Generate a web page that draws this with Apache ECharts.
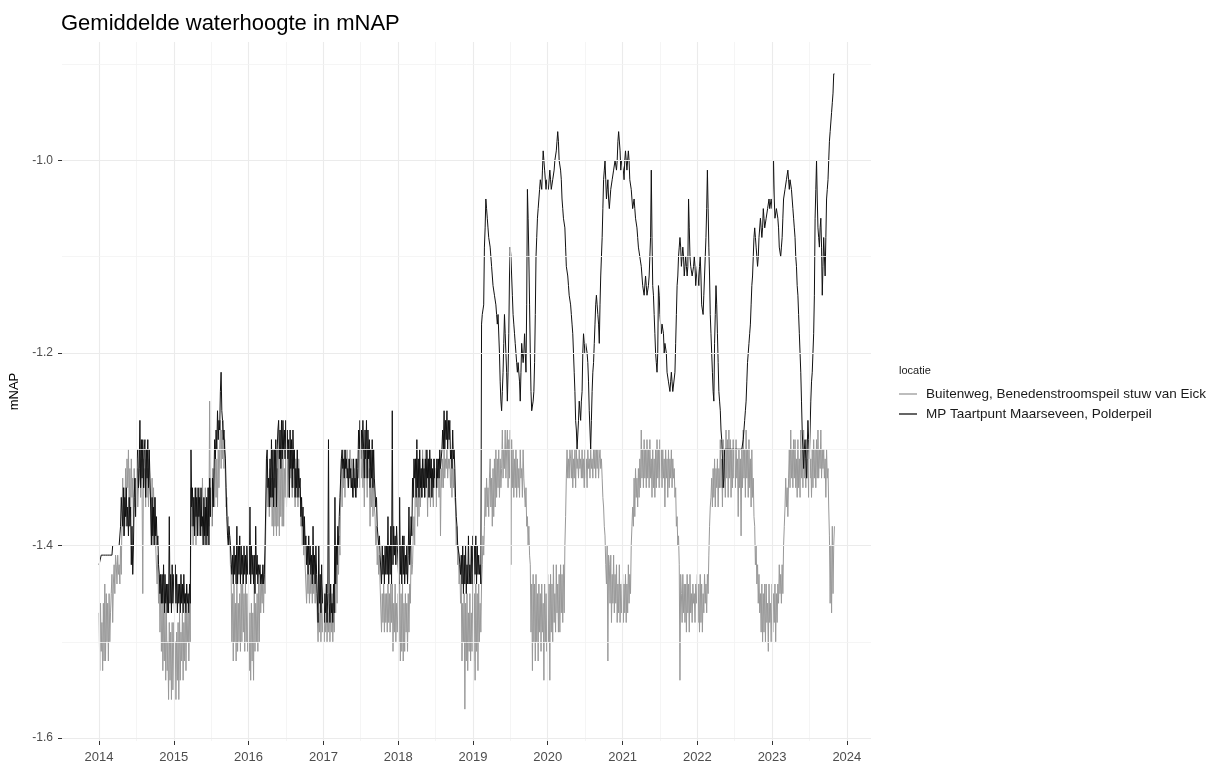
<!DOCTYPE html>
<html><head><meta charset="utf-8">
<script src="https://cdn.jsdelivr.net/npm/echarts@6/dist/echarts.min.js"></script>
<style>html,body{margin:0;padding:0;background:#fff}#c{width:1217px;height:765px}</style>
</head><body><div id="c"></div>
<script>
const chartTitle = 'Gemiddelde waterhoogte in mNAP';
const legendTitle = 'locatie';
const yAxisTitle = 'mNAP';
const seriesNames = ['Buitenweg, Benedenstroomspeil stuw van Eick', 'MP Taartpunt Maarseveen, Polderpeil'];
const startYear = 2014;
const readingsPerYear = 104;   // two readings per week, each year restarts on 1 January
const readingStepDays = 3.5;

// Buitenweg (grey), twice-weekly readings, one row per year 2014 .. Nov 2023
const buitenweg = [
 -1.47,-1.53,-1.46,-1.51,-1.48,-1.53,-1.46,-1.52,-1.44,-1.52,-1.45,-1.50,-1.46,-1.52,-1.45,-1.50,-1.47,-1.45,-1.43,-1.48,-1.44,-1.42,-1.45,-1.41,-1.42,-1.44,-1.41,-1.43,-1.42,-1.44,-1.40,-1.43,-1.37,-1.33,-1.39,-1.34,-1.38,-1.32,-1.37,-1.31,-1.34,-1.30,-1.36,-1.32,-1.37,-1.31,-1.35,-1.33,-1.38,-1.32,-1.36,-1.33,-1.37,-1.32,-1.36,-1.34,-1.33,-1.30,-1.35,-1.31,-1.34,-1.45,-1.31,-1.34,-1.32,-1.36,-1.31,-1.35,-1.32,-1.36,-1.31,-1.34,-1.35,-1.39,-1.33,-1.40,-1.34,-1.38,-1.35,-1.40,-1.40,-1.44,-1.41,-1.46,-1.43,-1.49,-1.44,-1.51,-1.45,-1.53,-1.47,-1.52,-1.46,-1.54,-1.47,-1.53,-1.50,-1.56,-1.48,-1.54,-1.49,-1.56,-1.48,-1.55,
 -1.48,-1.55,-1.50,-1.56,-1.49,-1.54,-1.48,-1.56,-1.47,-1.54,-1.49,-1.52,-1.47,-1.54,-1.48,-1.52,-1.45,-1.53,-1.47,-1.50,-1.46,-1.52,-1.47,-1.50,-1.34,-1.38,-1.36,-1.40,-1.35,-1.39,-1.34,-1.40,-1.34,-1.37,-1.35,-1.39,-1.34,-1.38,-1.35,-1.39,-1.33,-1.38,-1.36,-1.40,-1.34,-1.39,-1.35,-1.40,-1.34,-1.38,-1.25,-1.37,-1.33,-1.37,-1.32,-1.36,-1.32,-1.36,-1.30,-1.35,-1.31,-1.36,-1.30,-1.34,-1.30,-1.27,-1.32,-1.28,-1.31,-1.27,-1.32,-1.29,-1.33,-1.36,-1.35,-1.38,-1.37,-1.40,-1.39,-1.42,-1.43,-1.50,-1.45,-1.52,-1.44,-1.50,-1.46,-1.52,-1.44,-1.51,-1.46,-1.50,-1.45,-1.51,-1.44,-1.50,-1.43,-1.49,-1.45,-1.51,-1.44,-1.50,-1.45,-1.51,
 -1.45,-1.53,-1.47,-1.54,-1.46,-1.52,-1.47,-1.54,-1.44,-1.51,-1.46,-1.50,-1.45,-1.51,-1.44,-1.50,-1.43,-1.47,-1.44,-1.46,-1.43,-1.47,-1.42,-1.45,-1.38,-1.34,-1.31,-1.36,-1.33,-1.37,-1.32,-1.36,-1.33,-1.38,-1.34,-1.39,-1.33,-1.38,-1.34,-1.39,-1.32,-1.38,-1.30,-1.39,-1.31,-1.37,-1.30,-1.38,-1.30,-1.38,-1.32,-1.35,-1.31,-1.36,-1.30,-1.35,-1.31,-1.35,-1.30,-1.33,-1.31,-1.35,-1.30,-1.34,-1.32,-1.36,-1.31,-1.35,-1.32,-1.36,-1.31,-1.35,-1.34,-1.38,-1.36,-1.40,-1.37,-1.41,-1.38,-1.42,-1.42,-1.46,-1.43,-1.45,-1.42,-1.46,-1.43,-1.45,-1.43,-1.46,-1.42,-1.45,-1.43,-1.46,-1.42,-1.45,-1.45,-1.50,-1.47,-1.49,-1.45,-1.50,-1.46,-1.49,
 -1.46,-1.50,-1.47,-1.49,-1.46,-1.50,-1.47,-1.49,-1.45,-1.50,-1.46,-1.49,-1.45,-1.50,-1.46,-1.49,-1.43,-1.47,-1.42,-1.46,-1.40,-1.43,-1.39,-1.41,-1.33,-1.31,-1.36,-1.30,-1.34,-1.31,-1.35,-1.30,-1.32,-1.30,-1.34,-1.31,-1.33,-1.30,-1.34,-1.31,-1.33,-1.31,-1.35,-1.32,-1.34,-1.31,-1.35,-1.32,-1.31,-1.33,-1.30,-1.34,-1.31,-1.33,-1.30,-1.34,-1.31,-1.36,-1.30,-1.33,-1.31,-1.35,-1.30,-1.33,-1.32,-1.38,-1.33,-1.36,-1.32,-1.37,-1.33,-1.36,-1.37,-1.40,-1.38,-1.42,-1.40,-1.43,-1.41,-1.44,-1.44,-1.49,-1.45,-1.48,-1.44,-1.49,-1.45,-1.48,-1.45,-1.49,-1.44,-1.48,-1.45,-1.49,-1.44,-1.48,-1.44,-1.51,-1.46,-1.49,-1.44,-1.50,-1.46,-1.49,
 -1.45,-1.50,-1.44,-1.52,-1.45,-1.51,-1.44,-1.52,-1.46,-1.51,-1.45,-1.49,-1.46,-1.51,-1.45,-1.49,-1.44,-1.46,-1.40,-1.43,-1.42,-1.39,-1.37,-1.40,-1.31,-1.36,-1.33,-1.38,-1.32,-1.37,-1.31,-1.36,-1.32,-1.35,-1.30,-1.34,-1.31,-1.35,-1.30,-1.34,-1.32,-1.37,-1.31,-1.35,-1.32,-1.36,-1.31,-1.35,-1.33,-1.36,-1.31,-1.34,-1.32,-1.36,-1.31,-1.34,-1.32,-1.35,-1.31,-1.39,-1.32,-1.34,-1.31,-1.34,-1.30,-1.33,-1.31,-1.32,-1.30,-1.33,-1.31,-1.32,-1.31,-1.34,-1.32,-1.35,-1.31,-1.34,-1.32,-1.35,-1.36,-1.40,-1.38,-1.42,-1.40,-1.44,-1.42,-1.46,-1.44,-1.52,-1.46,-1.50,-1.45,-1.57,-1.46,-1.52,-1.45,-1.53,-1.47,-1.51,-1.45,-1.52,-1.47,-1.51,
 -1.43,-1.52,-1.45,-1.54,-1.44,-1.51,-1.45,-1.53,-1.44,-1.50,-1.46,-1.49,-1.44,-1.42,-1.39,-1.41,-1.38,-1.34,-1.37,-1.33,-1.36,-1.34,-1.37,-1.33,-1.31,-1.36,-1.33,-1.38,-1.32,-1.37,-1.31,-1.36,-1.30,-1.35,-1.31,-1.34,-1.30,-1.35,-1.31,-1.34,-1.32,-1.28,-1.33,-1.30,-1.32,-1.28,-1.33,-1.30,-1.28,-1.34,-1.29,-1.33,-1.28,-1.42,-1.29,-1.34,-1.30,-1.35,-1.31,-1.34,-1.30,-1.35,-1.31,-1.34,-1.32,-1.35,-1.30,-1.33,-1.32,-1.35,-1.30,-1.33,-1.33,-1.36,-1.34,-1.38,-1.37,-1.40,-1.38,-1.41,-1.42,-1.49,-1.44,-1.53,-1.43,-1.50,-1.44,-1.52,-1.43,-1.50,-1.45,-1.52,-1.44,-1.49,-1.45,-1.51,-1.44,-1.49,-1.46,-1.54,-1.44,-1.50,-1.45,-1.51,
 -1.43,-1.50,-1.44,-1.54,-1.43,-1.49,-1.44,-1.50,-1.42,-1.48,-1.45,-1.49,-1.42,-1.47,-1.44,-1.49,-1.43,-1.49,-1.42,-1.47,-1.43,-1.48,-1.42,-1.47,-1.40,-1.37,-1.33,-1.30,-1.33,-1.31,-1.33,-1.30,-1.31,-1.33,-1.30,-1.34,-1.31,-1.33,-1.30,-1.34,-1.30,-1.32,-1.31,-1.33,-1.30,-1.32,-1.31,-1.33,-1.30,-1.33,-1.31,-1.34,-1.30,-1.33,-1.31,-1.34,-1.30,-1.32,-1.31,-1.33,-1.30,-1.32,-1.31,-1.33,-1.30,-1.32,-1.30,-1.33,-1.30,-1.32,-1.30,-1.33,-1.31,-1.30,-1.32,-1.31,-1.33,-1.35,-1.36,-1.38,-1.39,-1.42,-1.44,-1.40,-1.52,-1.41,-1.42,-1.46,-1.41,-1.48,-1.43,-1.46,-1.41,-1.47,-1.43,-1.46,-1.42,-1.48,-1.44,-1.47,-1.42,-1.48,-1.44,-1.47,
 -1.43,-1.48,-1.44,-1.47,-1.43,-1.48,-1.44,-1.47,-1.42,-1.46,-1.43,-1.45,-1.40,-1.38,-1.36,-1.38,-1.33,-1.37,-1.32,-1.35,-1.33,-1.36,-1.32,-1.35,-1.31,-1.34,-1.28,-1.33,-1.30,-1.34,-1.29,-1.33,-1.30,-1.34,-1.29,-1.33,-1.30,-1.34,-1.29,-1.33,-1.31,-1.35,-1.30,-1.34,-1.31,-1.35,-1.30,-1.34,-1.29,-1.33,-1.30,-1.34,-1.29,-1.33,-1.30,-1.34,-1.30,-1.33,-1.31,-1.36,-1.30,-1.33,-1.31,-1.35,-1.30,-1.34,-1.31,-1.33,-1.30,-1.34,-1.31,-1.33,-1.32,-1.35,-1.34,-1.38,-1.37,-1.40,-1.39,-1.42,-1.54,-1.43,-1.45,-1.48,-1.43,-1.47,-1.44,-1.48,-1.44,-1.49,-1.43,-1.47,-1.44,-1.49,-1.43,-1.47,-1.45,-1.48,-1.44,-1.46,-1.45,-1.48,-1.44,-1.46,
 -1.43,-1.48,-1.44,-1.49,-1.43,-1.48,-1.44,-1.49,-1.45,-1.47,-1.43,-1.46,-1.44,-1.47,-1.43,-1.45,-1.41,-1.38,-1.36,-1.35,-1.33,-1.36,-1.32,-1.35,-1.31,-1.36,-1.32,-1.34,-1.31,-1.36,-1.32,-1.34,-1.29,-1.34,-1.31,-1.36,-1.29,-1.34,-1.31,-1.35,-1.28,-1.33,-1.29,-1.35,-1.28,-1.33,-1.29,-1.35,-1.30,-1.34,-1.29,-1.33,-1.30,-1.34,-1.29,-1.33,-1.31,-1.37,-1.30,-1.34,-1.31,-1.39,-1.30,-1.34,-1.28,-1.33,-1.30,-1.35,-1.28,-1.33,-1.30,-1.35,-1.29,-1.34,-1.31,-1.36,-1.30,-1.35,-1.33,-1.37,-1.38,-1.42,-1.40,-1.44,-1.42,-1.46,-1.43,-1.47,-1.45,-1.49,-1.44,-1.50,-1.45,-1.49,-1.44,-1.50,-1.44,-1.48,-1.46,-1.51,-1.44,-1.48,-1.46,-1.50,
 -1.44,-1.49,-1.45,-1.48,-1.44,-1.50,-1.45,-1.48,-1.44,-1.46,-1.42,-1.45,-1.43,-1.46,-1.42,-1.45,-1.40,-1.38,-1.36,-1.33,-1.36,-1.34,-1.37,-1.33,-1.30,-1.34,-1.28,-1.33,-1.30,-1.34,-1.29,-1.33,-1.29,-1.34,-1.31,-1.35,-1.29,-1.34,-1.31,-1.35,-1.28,-1.33,-1.30,-1.34,-1.28,-1.33,-1.30,-1.34,-1.29,-1.33,-1.31,-1.35,-1.29,-1.33,-1.31,-1.35,-1.30,-1.34,-1.29,-1.33,-1.30,-1.34,-1.29,-1.33,-1.28,-1.33,-1.30,-1.32,-1.28,-1.33,-1.30,-1.32,-1.30,-1.33,-1.31,-1.35,-1.30,-1.33,-1.32,-1.36,-1.39,-1.46,-1.40,-1.47,-1.38,-1.45,-1.40,-1.38
];

// MP Taartpunt (black), twice-weekly readings, one row per year 2014 .. Nov 2023
const taartpunt = [
 -1.42,-1.42,-1.42,-1.41,-1.41,-1.41,-1.41,-1.41,-1.41,-1.41,-1.41,-1.41,-1.41,-1.41,-1.41,-1.41,-1.41,-1.41,-1.41,-1.40,-1.40,-1.40,-1.40,-1.40,-1.40,-1.40,-1.40,-1.40,-1.40,-1.40,-1.38,-1.35,-1.35,-1.38,-1.34,-1.39,-1.35,-1.37,-1.34,-1.38,-1.36,-1.39,-1.35,-1.38,-1.36,-1.42,-1.38,-1.43,-1.40,-1.35,-1.33,-1.37,-1.36,-1.31,-1.30,-1.34,-1.32,-1.27,-1.34,-1.29,-1.33,-1.29,-1.34,-1.30,-1.29,-1.35,-1.30,-1.33,-1.29,-1.34,-1.30,-1.33,-1.36,-1.40,-1.35,-1.39,-1.36,-1.40,-1.35,-1.39,-1.37,-1.40,-1.39,-1.42,-1.43,-1.45,-1.43,-1.46,-1.43,-1.46,-1.42,-1.47,-1.43,-1.46,-1.44,-1.47,-1.44,-1.47,-1.37,-1.46,-1.43,-1.47,-1.42,-1.46,
 -1.43,-1.47,-1.42,-1.46,-1.43,-1.47,-1.44,-1.46,-1.44,-1.47,-1.43,-1.46,-1.44,-1.47,-1.43,-1.46,-1.45,-1.47,-1.44,-1.46,-1.45,-1.47,-1.44,-1.46,-1.30,-1.36,-1.34,-1.38,-1.35,-1.39,-1.34,-1.37,-1.35,-1.39,-1.34,-1.37,-1.35,-1.39,-1.34,-1.38,-1.37,-1.40,-1.35,-1.39,-1.36,-1.40,-1.35,-1.39,-1.34,-1.40,-1.33,-1.37,-1.34,-1.38,-1.33,-1.36,-1.33,-1.29,-1.31,-1.28,-1.30,-1.26,-1.29,-1.27,-1.28,-1.24,-1.22,-1.26,-1.27,-1.29,-1.28,-1.30,-1.31,-1.34,-1.37,-1.39,-1.40,-1.38,-1.39,-1.40,-1.40,-1.43,-1.41,-1.44,-1.40,-1.43,-1.41,-1.44,-1.38,-1.44,-1.40,-1.43,-1.39,-1.44,-1.40,-1.43,-1.41,-1.44,-1.40,-1.43,-1.41,-1.44,-1.40,-1.43,
 -1.40,-1.43,-1.36,-1.44,-1.40,-1.43,-1.41,-1.44,-1.41,-1.45,-1.38,-1.43,-1.41,-1.44,-1.42,-1.43,-1.42,-1.44,-1.43,-1.44,-1.42,-1.44,-1.43,-1.40,-1.36,-1.31,-1.30,-1.34,-1.33,-1.36,-1.31,-1.35,-1.29,-1.35,-1.30,-1.36,-1.30,-1.34,-1.29,-1.36,-1.30,-1.28,-1.27,-1.31,-1.28,-1.32,-1.27,-1.31,-1.27,-1.30,-1.28,-1.31,-1.27,-1.30,-1.28,-1.31,-1.29,-1.35,-1.28,-1.32,-1.29,-1.34,-1.28,-1.32,-1.30,-1.35,-1.32,-1.34,-1.30,-1.35,-1.32,-1.34,-1.33,-1.37,-1.35,-1.38,-1.36,-1.40,-1.37,-1.40,-1.39,-1.42,-1.40,-1.43,-1.39,-1.42,-1.40,-1.43,-1.41,-1.44,-1.38,-1.43,-1.41,-1.44,-1.40,-1.43,-1.43,-1.48,-1.40,-1.46,-1.43,-1.47,-1.42,-1.46,
 -1.44,-1.48,-1.45,-1.47,-1.44,-1.48,-1.45,-1.29,-1.46,-1.48,-1.44,-1.47,-1.46,-1.48,-1.44,-1.47,-1.35,-1.44,-1.40,-1.42,-1.38,-1.40,-1.37,-1.35,-1.33,-1.31,-1.30,-1.32,-1.31,-1.33,-1.30,-1.32,-1.31,-1.33,-1.32,-1.34,-1.31,-1.33,-1.32,-1.34,-1.33,-1.35,-1.31,-1.34,-1.33,-1.35,-1.31,-1.34,-1.32,-1.28,-1.30,-1.27,-1.31,-1.28,-1.30,-1.27,-1.27,-1.33,-1.28,-1.31,-1.27,-1.33,-1.28,-1.31,-1.29,-1.34,-1.30,-1.33,-1.29,-1.34,-1.30,-1.33,-1.33,-1.36,-1.35,-1.38,-1.38,-1.40,-1.39,-1.41,-1.41,-1.44,-1.40,-1.43,-1.41,-1.44,-1.40,-1.43,-1.40,-1.43,-1.37,-1.44,-1.40,-1.43,-1.38,-1.44,-1.26,-1.42,-1.38,-1.41,-1.39,-1.42,-1.38,-1.40,
 -1.40,-1.44,-1.35,-1.43,-1.40,-1.44,-1.39,-1.43,-1.39,-1.44,-1.41,-1.43,-1.40,-1.44,-1.41,-1.36,-1.42,-1.40,-1.37,-1.39,-1.33,-1.35,-1.31,-1.33,-1.31,-1.35,-1.29,-1.34,-1.31,-1.35,-1.30,-1.34,-1.32,-1.35,-1.31,-1.34,-1.32,-1.35,-1.31,-1.34,-1.30,-1.33,-1.31,-1.35,-1.30,-1.33,-1.31,-1.35,-1.32,-1.34,-1.31,-1.33,-1.32,-1.34,-1.31,-1.33,-1.31,-1.33,-1.30,-1.32,-1.31,-1.30,-1.28,-1.30,-1.26,-1.30,-1.27,-1.29,-1.26,-1.30,-1.27,-1.29,-1.27,-1.31,-1.30,-1.32,-1.28,-1.31,-1.30,-1.32,-1.35,-1.37,-1.38,-1.40,-1.40,-1.41,-1.42,-1.43,-1.41,-1.44,-1.40,-1.45,-1.41,-1.44,-1.40,-1.45,-1.42,-1.44,-1.39,-1.44,-1.42,-1.44,-1.40,-1.44,
 -1.39,-1.44,-1.40,-1.43,-1.39,-1.44,-1.40,-1.43,-1.41,-1.43,-1.42,-1.44,-1.17,-1.16,-1.16,-1.15,-1.09,-1.07,-1.04,-1.05,-1.06,-1.07,-1.08,-1.08,-1.09,-1.10,-1.11,-1.12,-1.13,-1.13,-1.14,-1.14,-1.15,-1.16,-1.17,-1.16,-1.16,-1.20,-1.23,-1.25,-1.26,-1.24,-1.22,-1.19,-1.16,-1.18,-1.20,-1.22,-1.25,-1.22,-1.18,-1.12,-1.09,-1.10,-1.12,-1.14,-1.16,-1.17,-1.18,-1.19,-1.20,-1.21,-1.22,-1.21,-1.21,-1.23,-1.25,-1.22,-1.19,-1.20,-1.21,-1.20,-1.18,-1.20,-1.22,-1.15,-1.03,-1.06,-1.10,-1.15,-1.20,-1.24,-1.26,-1.26,-1.25,-1.24,-1.21,-1.16,-1.10,-1.08,-1.06,-1.05,-1.05,-1.03,-1.02,-1.02,-1.03,-1.01,-0.99,-1.00,-1.01,-1.02,-1.03,-1.02,
 -1.02,-1.03,-1.03,-1.01,-1.02,-1.03,-1.03,-1.02,-1.02,-1.01,-1.00,-1.00,-0.99,-0.98,-0.97,-0.98,-1.00,-1.00,-1.01,-1.02,-1.04,-1.05,-1.06,-1.06,-1.07,-1.09,-1.11,-1.11,-1.12,-1.13,-1.14,-1.14,-1.15,-1.16,-1.17,-1.18,-1.20,-1.22,-1.24,-1.27,-1.28,-1.30,-1.30,-1.27,-1.25,-1.26,-1.27,-1.25,-1.24,-1.20,-1.18,-1.19,-1.20,-1.19,-1.19,-1.20,-1.21,-1.23,-1.26,-1.28,-1.30,-1.27,-1.24,-1.22,-1.21,-1.19,-1.17,-1.15,-1.14,-1.15,-1.16,-1.17,-1.19,-1.15,-1.12,-1.10,-1.08,-1.05,-1.02,-1.01,-1.00,-1.02,-1.04,-1.03,-1.02,-1.04,-1.05,-1.04,-1.03,-1.03,-1.02,-1.02,-1.01,-1.01,-1.00,-1.00,-1.01,-1.00,-0.98,-0.97,-0.97,-0.99,-1.01,-1.00,
 -1.00,-1.01,-1.02,-1.00,-0.99,-1.00,-1.01,-1.01,-0.99,-1.00,-1.02,-1.02,-1.03,-1.04,-1.05,-1.05,-1.04,-1.05,-1.06,-1.06,-1.07,-1.08,-1.09,-1.09,-1.10,-1.10,-1.11,-1.12,-1.13,-1.13,-1.14,-1.14,-1.12,-1.13,-1.14,-1.14,-1.13,-1.12,-1.12,-1.08,-1.01,-1.08,-1.13,-1.14,-1.16,-1.18,-1.20,-1.21,-1.22,-1.20,-1.13,-1.14,-1.16,-1.17,-1.18,-1.17,-1.17,-1.18,-1.20,-1.19,-1.19,-1.20,-1.22,-1.22,-1.23,-1.23,-1.24,-1.23,-1.22,-1.23,-1.24,-1.24,-1.24,-1.22,-1.19,-1.16,-1.13,-1.12,-1.10,-1.09,-1.08,-1.09,-1.11,-1.10,-1.09,-1.10,-1.12,-1.11,-1.10,-1.11,-1.12,-1.11,-1.04,-1.07,-1.10,-1.11,-1.11,-1.12,-1.12,-1.11,-1.10,-1.11,-1.13,-1.12,
 -1.11,-1.12,-1.13,-1.11,-1.10,-1.12,-1.15,-1.15,-1.16,-1.14,-1.12,-1.10,-1.08,-1.05,-1.01,-1.05,-1.09,-1.12,-1.16,-1.18,-1.20,-1.22,-1.24,-1.25,-1.19,-1.16,-1.13,-1.15,-1.18,-1.21,-1.24,-1.25,-1.26,-1.28,-1.29,-1.31,-1.34,-1.33,-1.30,-1.30,-1.30,-1.30,-1.30,-1.30,-1.30,-1.30,-1.30,-1.30,-1.30,-1.30,-1.30,-1.30,-1.30,-1.30,-1.30,-1.30,-1.30,-1.30,-1.30,-1.30,-1.30,-1.30,-1.30,-1.30,-1.29,-1.28,-1.27,-1.26,-1.25,-1.23,-1.21,-1.20,-1.19,-1.18,-1.17,-1.15,-1.13,-1.12,-1.10,-1.08,-1.07,-1.08,-1.09,-1.10,-1.11,-1.10,-1.08,-1.08,-1.06,-1.07,-1.08,-1.07,-1.05,-1.06,-1.07,-1.07,-1.06,-1.06,-1.05,-1.05,-1.04,-1.05,-1.05,-1.04,
 -1.05,-1.03,-1.00,-1.04,-1.06,-1.06,-1.05,-1.05,-1.06,-1.07,-1.09,-1.09,-1.10,-1.09,-1.08,-1.06,-1.04,-1.04,-1.03,-1.03,-1.02,-1.02,-1.01,-1.02,-1.03,-1.02,-1.02,-1.03,-1.04,-1.05,-1.06,-1.07,-1.08,-1.10,-1.11,-1.13,-1.14,-1.16,-1.18,-1.20,-1.22,-1.25,-1.28,-1.30,-1.32,-1.30,-1.29,-1.31,-1.33,-1.30,-1.27,-1.29,-1.31,-1.28,-1.25,-1.23,-1.22,-1.20,-1.18,-1.14,-1.06,-1.03,-1.00,-1.04,-1.07,-1.08,-1.09,-1.07,-1.06,-1.09,-1.14,-1.11,-1.08,-1.10,-1.12,-1.08,-1.04,-1.03,-1.02,-1.00,-0.98,-0.97,-0.96,-0.95,-0.94,-0.93,-0.91,-0.91
];

const yearTicks = [2014, 2015, 2016, 2017, 2018, 2019, 2020, 2021, 2022, 2023, 2024];
const yMajor = [-1.6, -1.4, -1.2, -1.0];
const yMinor = [-1.5, -1.3, -1.1, -0.9];

const DAY = 86400000;
function readingDate(i) {
  const y = startYear + Math.floor(i / readingsPerYear);
  const k = i % readingsPerYear;
  return new Date(y, 0, 1).getTime() + k * readingStepDays * DAY;
}
const yearTs = yearTicks.map(y => new Date(y, 0, 1).getTime());
const halfTs = yearTicks.slice(0, -1).map(y => new Date(y, 6, 2).getTime());

const xMin = new Date(2013, 6, 4).getTime();
const xMax = new Date(2024, 3, 28).getTime();
const yMin = -1.6031, yMax = -0.8769;

const gridColor = '#ebebeb';
const gridLines = []
  .concat(yearTs.map(t => ({ xAxis: t, lineStyle: { color: gridColor, width: 1.1, type: 'solid' } })))
  .concat(halfTs.map(t => ({ xAxis: t, lineStyle: { color: '#f2f2f2', width: 0.8, type: 'solid' } })))
  .concat(yMajor.map(v => ({ yAxis: v, lineStyle: { color: gridColor, width: 1.1, type: 'solid' } })))
  .concat(yMinor.map(v => ({ yAxis: v, lineStyle: { color: '#f2f2f2', width: 0.8, type: 'solid' } })));

const font = 'Liberation Sans, Arial, sans-serif';
const chart = echarts.init(document.getElementById('c'), null, { renderer: 'canvas' });
chart.setOption({
  animation: false,
  backgroundColor: '#ffffff',
  textStyle: { fontFamily: font },
  title: [
    { text: chartTitle, left: 61, top: 13, padding: 0, textStyle: { fontSize: 22, fontWeight: 'normal', color: '#000', fontFamily: font } },
    { text: legendTitle, left: 899, top: 365, padding: 0, textStyle: { fontSize: 11, fontWeight: 'normal', color: '#1a1a1a', fontFamily: font } }
  ],
  legend: {
    data: seriesNames,
    orient: 'vertical',
    left: 899, top: 387,
    padding: 0,
    icon: 'rect',
    itemWidth: 18, itemHeight: 1.3,
    itemGap: 6,
    selectedMode: false,
    textStyle: { fontSize: 13.5, color: '#1a1a1a', fontFamily: font, padding: [0, 0, 0, 4] }
  },
  grid: { left: 61, right: 346, top: 42, bottom: 24, containLabel: false },
  xAxis: {
    type: 'value', min: xMin, max: xMax,
    axisLine: { show: false },
    splitLine: { show: false },
    axisTick: { show: true, customValues: yearTs, length: 4, lineStyle: { color: '#333', width: 1 } },
    axisLabel: { customValues: yearTs, formatter: v => String(new Date(v).getFullYear()), color: '#4d4d4d', fontSize: 13, margin: 10, fontFamily: font }
  },
  yAxis: {
    type: 'value', min: yMin, max: yMax,
    axisLine: { show: false },
    splitLine: { show: false },
    axisTick: { show: true, customValues: yMajor, length: 4, lineStyle: { color: '#333', width: 1 } },
    axisLabel: { customValues: yMajor, formatter: v => v.toFixed(1), color: '#4d4d4d', fontSize: 12, margin: 9, fontFamily: font },
    name: yAxisTitle, nameLocation: 'middle', nameGap: 41, nameRotate: 90,
    nameTextStyle: { fontSize: 13, color: '#000', fontFamily: font }
  },
  series: [
    {
      type: 'line', name: '_grid', data: [], z: 1, silent: true,
      markLine: { silent: true, symbol: ['none', 'none'], animation: false, label: { show: false }, emphasis: { disabled: true }, data: gridLines }
    },
    {
      type: 'line', name: seriesNames[0], z: 2,
      data: buitenweg.map((v, i) => [readingDate(i), v]),
      showSymbol: false, symbol: 'none', sampling: null,
      color: '#999999', itemStyle: { color: '#999999' },
      lineStyle: { width: 1, color: '#999999' }
    },
    {
      type: 'line', name: seriesNames[1], z: 3,
      data: taartpunt.map((v, i) => [readingDate(i), v]),
      showSymbol: false, symbol: 'none', sampling: null,
      color: '#111111', itemStyle: { color: '#111111' },
      lineStyle: { width: 1, color: '#111111' }
    }
  ]
});
</script>
</body></html>
